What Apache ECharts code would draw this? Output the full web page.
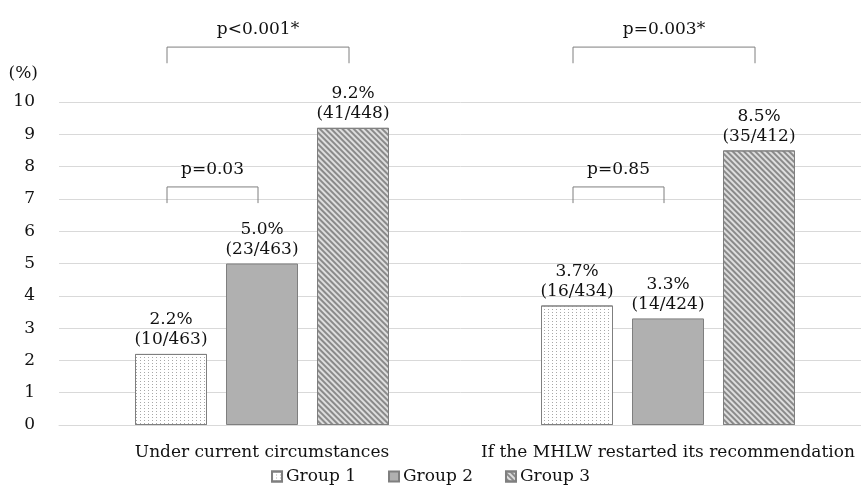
<!DOCTYPE html>
<html>
<head>
<meta charset="utf-8">
<script src="https://cdn.jsdelivr.net/npm/echarts@6/dist/echarts.min.js"></script>
<style>html,body{margin:0;padding:0;background:#fff;}#c{width:861px;height:493px;}</style>
</head>
<body>
<div id="c"></div>
<script>
// ---- data ----
const categories = ['Under current circumstances', 'If the MHLW restarted its recommendation'];
const groupNames = ['Group 1', 'Group 2', 'Group 3'];
const group1Pct = [2.2, 3.7];
const group2Pct = [5.0, 3.3];
const group3Pct = [9.2, 8.5];
const group1Counts = ['10/463', '16/434'];
const group2Counts = ['23/463', '14/424'];
const group3Counts = ['41/448', '35/412'];
const yTicks = [0, 1, 2, 3, 4, 5, 6, 7, 8, 9, 10];
// brackets: category index, from group, to group, level (value units), p-value label
const bracketCat = [0, 0, 1, 1];
const bracketFrom = [0, 0, 0, 0];
const bracketTo = [2, 1, 2, 1];
const bracketLevel = [11.7, 7.37, 11.7, 7.37];
const bracketText = ['p<0.001*', 'p=0.03', 'p=0.003*', 'p=0.85'];

// ---- chart ----
const FONT = '"DejaVu Serif", serif';
const FS = 17;
const TXT = '#111';
const BAR_W = 72;
const BAR_GAP = 19;
const chart = echarts.init(document.getElementById('c'));

function labelFor(counts) {
  return {
    show: true, position: 'top', distance: 4,
    fontFamily: FONT, fontSize: FS, color: TXT, lineHeight: 20,
    formatter: p => p.value.toFixed(1) + '%\n(' + counts[p.dataIndex] + ')'
  };
}

const series = [
  {
    name: groupNames[0], type: 'bar', data: group1Pct, barWidth: BAR_W, barGap: (BAR_GAP / BAR_W * 100) + '%',
    itemStyle: {
      color: '#ffffff', borderColor: '#7f7f7f', borderWidth: 1,
      decal: { symbol: 'rect', symbolSize: 1, dashArrayX: [1, 3], dashArrayY: [1, 2], color: '#a8a8a8' }
    },
    label: labelFor(group1Counts)
  },
  {
    name: groupNames[1], type: 'bar', data: group2Pct, barWidth: BAR_W,
    itemStyle: { color: '#b0b0b0', borderColor: '#7f7f7f', borderWidth: 1 },
    label: labelFor(group2Counts)
  },
  {
    name: groupNames[2], type: 'bar', data: group3Pct, barWidth: BAR_W,
    itemStyle: {
      color: '#dedede', borderColor: '#7f7f7f', borderWidth: 1,
      decal: { symbol: 'rect', symbolSize: 1, dashArrayX: [1, 0], dashArrayY: [1.2, 1.2], rotation: Math.PI / 4, color: '#8a8a8a' }
    },
    label: labelFor(group3Counts)
  },
  {
    type: 'custom', name: 'brackets', silent: true, clip: false, z: 5,
    data: bracketCat.map((c, i) => [c, bracketLevel[i]]),
    renderItem: function (params, api) {
      const i = params.dataIndex;
      const top = api.coord([api.value(0), api.value(1)]);
      const lowY = api.coord([api.value(0), api.value(1) - 0.5])[1];
      const step = BAR_W + BAR_GAP;
      const x1 = top[0] + (bracketFrom[i] - 1) * step - 4;
      const x2 = top[0] + (bracketTo[i] - 1) * step - 4;
      return {
        type: 'group',
        children: [
          {
            type: 'polyline',
            shape: { points: [[x1, lowY], [x1, top[1]], [x2, top[1]], [x2, lowY]] },
            style: { stroke: '#7f7f7f', lineWidth: 1, fill: null }
          },
          {
            type: 'text',
            style: {
              text: bracketText[i], x: (x1 + x2) / 2, y: top[1] - 9,
              align: 'center', verticalAlign: 'bottom',
              font: FS + 'px ' + FONT, fill: TXT
            }
          }
        ]
      };
    }
  }
];

chart.setOption({
  animation: false,
  backgroundColor: '#ffffff',
  grid: { left: 59, right: -10, top: 102, bottom: 68, outerBoundsMode: 'none', containLabel: false },
  legend: {
    bottom: 3, left: 'center',
    data: groupNames,
    icon: 'rect',
    itemWidth: 10, itemHeight: 10, itemGap: 32,
    textStyle: { fontFamily: FONT, fontSize: FS, color: TXT, padding: [0, 0, 0, -1] }
  },
  xAxis: {
    type: 'category', data: categories,
    axisLine: { show: true, lineStyle: { color: '#d9d9d9' } },
    axisTick: { show: false },
    axisLabel: { interval: 0, margin: 19, fontFamily: FONT, fontSize: FS, color: TXT, hideOverlap: false }
  },
  yAxis: {
    type: 'value', min: yTicks[0], max: yTicks[yTicks.length - 1], interval: 1,
    name: '(%)', nameLocation: 'end', nameGap: 20,
    nameTextStyle: { fontFamily: FONT, fontSize: FS, color: TXT, align: 'right', padding: [0, 21, 0, 0] },
    axisLine: { show: false }, axisTick: { show: false },
    axisLabel: { margin: 24, fontFamily: FONT, fontSize: FS, color: TXT },
    splitLine: { lineStyle: { color: '#d9d9d9' } }
  },
  series: series
});
</script>
</body>
</html>
